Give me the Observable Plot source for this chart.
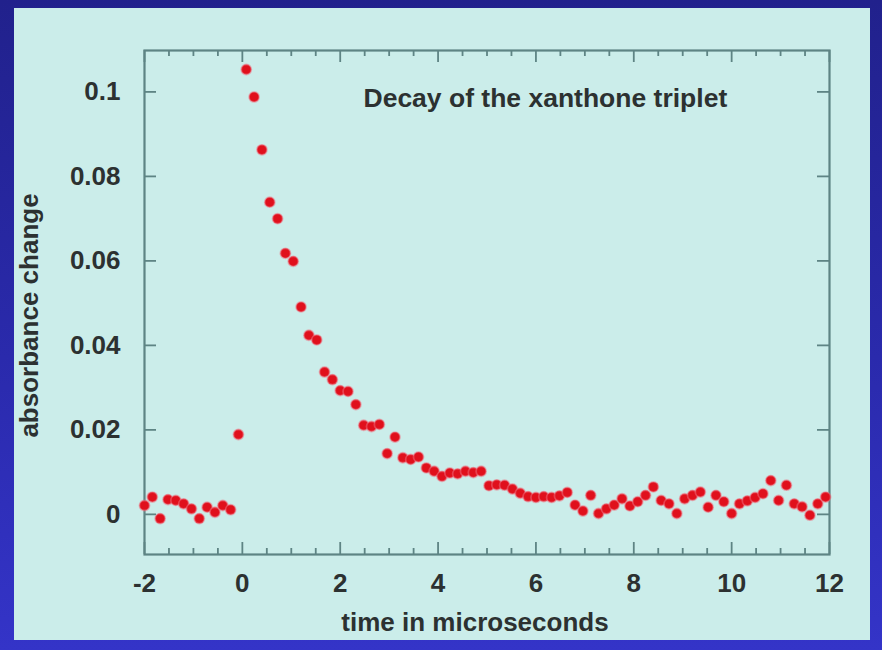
<!DOCTYPE html>
<html><head><meta charset="utf-8">
<script src="https://cdn.jsdelivr.net/npm/d3@7"></script>
<script src="https://cdn.jsdelivr.net/npm/@observablehq/plot@0.6"></script>
<style>
html,body{margin:0;padding:0;}
body{width:882px;height:650px;background:linear-gradient(180deg,#21218c 0%,#2a2aac 55%,#3434c8 100%);position:relative;overflow:hidden;}
#panel{position:absolute;left:14px;top:8px;width:856px;height:632px;background:#cbedea;}
#panel svg{display:block;}
</style></head><body><div id="panel"></div>
<script>
// time (microseconds) of each sample
const timeUs = [
  -2.00,-1.84,-1.68,-1.52,-1.36,-1.20,-1.04,-0.88,-0.72,-0.56,-0.40,-0.24,-0.08,
  0.08,0.24,0.40,0.56,0.72,0.88,1.04,1.20,1.36,1.52,1.68,1.84,2.00,2.16,2.32,2.48,
  2.64,2.80,2.96,3.12,3.28,3.44,3.60,3.76,3.92,4.08,4.24,4.40,4.56,4.72,4.88,5.04,
  5.20,5.36,5.52,5.68,5.84,6.00,6.16,6.32,6.48,6.64,6.80,6.96,7.12,7.28,7.44,7.60,
  7.76,7.92,8.08,8.24,8.40,8.56,8.72,8.88,9.04,9.20,9.36,9.52,9.68,9.84,10.00,10.16,
  10.32,10.48,10.64,10.80,10.96,11.12,11.28,11.44,11.60,11.76,11.92
];
// absorbance change
const absorbance = [
  0.0021,0.0041,-0.0010,0.0035,0.0033,0.0025,0.0013,-0.0010,0.0017,0.0005,0.0021,0.0011,0.0189,
  0.1053,0.0988,0.0863,0.0739,0.0700,0.0618,0.0599,0.0491,0.0424,0.0413,0.0337,0.0319,0.0293,0.0291,0.0260,0.0211,
  0.0208,0.0213,0.0144,0.0183,0.0134,0.0130,0.0136,0.0110,0.0102,0.0090,0.0098,0.0096,0.0102,0.0099,0.0102,0.0068,
  0.0070,0.0069,0.0060,0.0050,0.0042,0.0040,0.0042,0.0040,0.0044,0.0052,0.0022,0.0008,0.0045,0.0002,0.0013,0.0022,
  0.0037,0.0020,0.0030,0.0045,0.0065,0.0033,0.0025,0.0002,0.0037,0.0045,0.0053,0.0017,0.0045,0.0030,0.0002,0.0025,
  0.0032,0.0040,0.0049,0.0080,0.0033,0.0069,0.0025,0.0018,-0.0002,0.0025,0.0041
];
const xTicks = [-2,0,2,4,6,8,10,12];
const xMinorTicks = [-1.5,-1,-0.5,0.5,1,1.5,2.5,3,3.5,4.5,5,5.5,6.5,7,7.5,8.5,9,9.5,10.5,11,11.5];
const yTicks = [0,0.02,0.04,0.06,0.08,0.1];
const titleText = "Decay of the xanthone triplet";
const xLabel = "time in microseconds";
const yLabel = "absorbance change";

const data = timeUs.map((t, i) => ({t, a: absorbance[i]}));

const W = 856, H = 632, mL = 130, mR = 41, mT = 42, mB = 86;
const fw = W - mL - mR, fh = H - mT - mB;
const axisColor = "#5e8484";
const textColor = "#2c3131";
const font = "'Liberation Sans', Arial, Helvetica, sans-serif";
const fmt = d => String(d);

const chart = Plot.plot({
  width: W, height: H,
  marginLeft: mL, marginRight: mR, marginTop: mT, marginBottom: mB,
  style: {background: "transparent", fontFamily: font, color: textColor},
  x: {domain: [-2, 12]},
  y: {domain: [-0.0095, 0.1098]},
  marks: [
    Plot.tickX(xTicks, {x: d => d, insetTop: fh - 12, stroke: axisColor, strokeWidth: 1.8}),
    Plot.tickX(xTicks, {x: d => d, insetBottom: fh - 12, stroke: axisColor, strokeWidth: 1.8}),
    Plot.tickX(xMinorTicks, {x: d => d, insetTop: fh - 6, stroke: axisColor, strokeWidth: 1.8}),
    Plot.tickX(xMinorTicks, {x: d => d, insetBottom: fh - 6, stroke: axisColor, strokeWidth: 1.8}),
    Plot.tickY(yTicks, {y: d => d, insetRight: fw - 12, stroke: axisColor, strokeWidth: 1.8}),
    Plot.tickY(yTicks, {y: d => d, insetLeft: fw - 12, stroke: axisColor, strokeWidth: 1.8}),
    Plot.frame({stroke: axisColor, strokeWidth: 2.2}),
    Plot.axisX(xTicks, {tickSize: 0, tickPadding: 19, tickFormat: fmt, label: null,
      fontSize: 26, fontWeight: "bold", fill: textColor}),
    Plot.axisY(yTicks, {tickSize: 0, tickPadding: 24, tickFormat: fmt, label: null,
      fontSize: 26, fontWeight: "bold", fill: textColor}),
    Plot.dot(data, {x: "t", y: "a", r: 5, fill: "#e0101c",
      stroke: "#f07080", strokeWidth: 1.8, strokeOpacity: 0.5}),
    Plot.text([titleText], {frameAnchor: "top-left", dx: 219, dy: 48.5,
      textAnchor: "start", lineAnchor: "middle", fontSize: 26.5, fontWeight: "bold", fill: textColor}),
    Plot.text([xLabel], {frameAnchor: "bottom", dx: -12, dy: 68,
      textAnchor: "middle", lineAnchor: "middle", fontSize: 26, fontWeight: "bold", fill: textColor}),
    Plot.text([yLabel], {frameAnchor: "left", dx: -115, dy: 13, rotate: -90,
      textAnchor: "middle", lineAnchor: "middle", fontSize: 26, fontWeight: "bold", fill: textColor})
  ]
});
document.getElementById("panel").appendChild(chart);
</script>
</body></html>
